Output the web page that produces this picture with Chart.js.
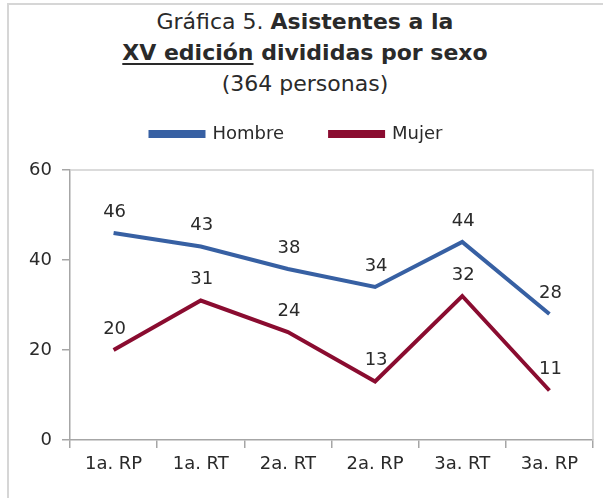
<!DOCTYPE html>
<html>
<head>
<meta charset="utf-8">
<script src="https://cdn.jsdelivr.net/npm/chart.js@4/dist/chart.umd.min.js"></script>
<style>
	body { margin: 0; background: #fff; }
	#wrap { position: relative; width: 603px; height: 498px; overflow: hidden; }
	#frame { position: absolute; left: 7px; top: 3px; width: 700px; height: 600px;
		border-left: 2px solid #d6d6d6; border-top: 2px solid #d6d6d6; }
	#title { position: absolute; left: 0; top: 6px; width: 610px; text-align: center;
		font-family: 'DejaVu Sans', sans-serif; font-size: 22px; color: #2a2a2a; line-height: 31px; }
	#title b { font-weight: bold; }
	#title u { text-decoration: underline; text-underline-offset: 3px; }
	canvas { position: absolute; left: 0; top: 0; }
</style>
</head>
<body>
<div id="wrap">
	<div id="frame"></div>
	<div id="title">
		Gráfica 5. <b>Asistentes a la</b><br>
		<b><u>XV edición</u> divididas por sexo</b><br>
		(364 personas)
	</div>
	<canvas id="lineChart" width="603" height="498"></canvas>
</div>
<script>
const categories = ['1a. RP', '1a. RT', '2a. RT', '2a. RP', '3a. RT', '3a. RP']
const hombre = [46, 43, 38, 34, 44, 28]
const mujer = [20, 31, 24, 13, 32, 11]
const seriesNames = ['Hombre', 'Mujer']
const yTicks = [0, 20, 40, 60]

const font = "'DejaVu Sans', sans-serif"

//extra room under the legend
const legendGap = {
	id: 'legendGap',
	beforeInit(chart) {
		const fit = chart.legend.fit
		chart.legend.fit = function () {
			fit.bind(chart.legend)()
			this.height += 17
		}
	}
}

//draw numbers above points
const pointLabels = {
	id: 'pointLabels',
	afterDatasetsDraw(chart) {
		const ctx = chart.ctx
		ctx.save()
		ctx.font = `18px ${font}`
		ctx.fillStyle = '#2a2a2a'
		ctx.textAlign = 'center'
		ctx.textBaseline = 'middle'
		chart.data.datasets.forEach((ds, i) => {
			chart.getDatasetMeta(i).data.forEach((pt, j) => {
				ctx.fillText(ds.data[j], pt.x + 1, pt.y - 21)
			})
		})
		ctx.restore()
	}
}

//light border on top and right of plot area
const plotBorder = {
	id: 'plotBorder',
	beforeDatasetsDraw(chart) {
		const { ctx, chartArea: a } = chart
		ctx.save()
		ctx.strokeStyle = '#cfcfcf'
		ctx.lineWidth = 1.5
		ctx.beginPath()
		ctx.moveTo(a.left, a.top)
		ctx.lineTo(a.right, a.top)
		ctx.lineTo(a.right, a.bottom)
		ctx.stroke()
		ctx.restore()
	}
}

new Chart(document.getElementById('lineChart'), {
	type: 'line',
	data: {
		labels: categories,
		datasets: [{
			label: seriesNames[0],
			data: hombre,
			borderColor: '#3760a3',
			backgroundColor: '#3760a3',
			borderWidth: 4,
			pointRadius: 0,
			tension: 0
		}, {
			label: seriesNames[1],
			data: mujer,
			borderColor: '#8a0c30',
			backgroundColor: '#8a0c30',
			borderWidth: 4,
			pointRadius: 0,
			tension: 0
		}]
	},
	options: {
		responsive: false,
		animation: false,
		layout: {
			padding: { top: 79, right: 10, bottom: 18, left: 0 }
		},
		plugins: {
			legend: {
				position: 'top',
				labels: {
					color: '#2a2a2a',
					font: { family: font, size: 18 },
					boxWidth: 53,
					boxHeight: 4,
					padding: 46
				}
			},
			tooltip: { enabled: false }
		},
		scales: {
			x: {
				offset: true,
				grid: {
					offset: true,
					drawOnChartArea: false,
					tickLength: 8,
					color: '#a6a6a6',
					lineWidth: 1.5
				},
				border: { color: '#a6a6a6', width: 1.5 },
				ticks: {
					color: '#2a2a2a',
					font: { family: font, size: 18 },
					padding: 6,
					maxRotation: 0
				},
				afterFit: scale => { scale.height = 40 }
			},
			y: {
				min: 0,
				max: 60,
				afterBuildTicks: scale => { scale.ticks = yTicks.map(v => ({ value: v })) },
				grid: {
					drawOnChartArea: false,
					tickLength: 8,
					color: '#a6a6a6',
					lineWidth: 1.5
				},
				border: { color: '#a6a6a6', width: 1.5 },
				ticks: {
					color: '#2a2a2a',
					font: { family: font, size: 18 },
					padding: 10
				},
				afterFit: scale => { scale.width = 70 }
			}
		}
	},
	plugins: [legendGap, plotBorder, pointLabels]
})
</script>
</body>
</html>
